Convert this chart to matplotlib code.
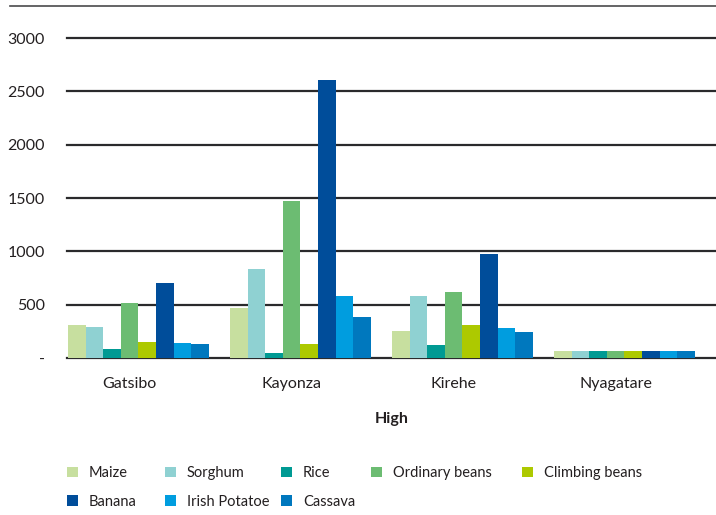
import numpy as np
import matplotlib
matplotlib.use("Agg")
import matplotlib.pyplot as plt
from matplotlib.lines import Line2D

plt.rcParams['font.family'] = ['Lato', 'DejaVu Sans']

districts = ["Gatsibo", "Kayonza", "Kirehe", "Nyagatare"]
crops = ["Maize", "Sorghum", "Rice", "Ordinary beans", "Climbing beans",
         "Banana", "Irish Potatoe", "Cassava"]
colors = ["#c7df9f", "#8fd1d2", "#009a93", "#6cbc72", "#adc900",
          "#004d9a", "#009ddf", "#0078be"]

# values per crop, one entry per district
maize = [309, 469, 253, 65]
sorghum = [290, 834, 581, 65]
rice = [84, 47, 122, 65]
ordinary_beans = [516, 1472, 619, 65]
climbing_beans = [150, 131, 309, 65]
banana = [703, 2606, 975, 65]
irish_potatoe = [140, 581, 281, 65]
cassava = [131, 384, 244, 65]
series = [maize, sorghum, rice, ordinary_beans, climbing_beans,
          banana, irish_potatoe, cassava]

yticks = [0, 500, 1000, 1500, 2000, 2500, 3000]
yticklabels = ["-", "500", "1000", "1500", "2000", "2500", "3000"]

W, H = 716, 515
fig = plt.figure(figsize=(W / 100, H / 100), dpi=100)
ax = fig.add_axes([67 / W, 1 - 358 / H, 1 - 67 / W, 320 / H])

x = np.arange(len(districts))
n = len(crops)
group = 0.87
w = group / n
shift = 0.055  # bar groups sit a little right of the category labels
handles = []
for i, (name, vals) in enumerate(zip(crops, series)):
    b = ax.bar(x + shift - group / 2 + w * (i + 0.5), vals, w,
               color=colors[i], label=name, zorder=3)
    handles.append(b)

ax.set_xlim(-0.386, 3.62)
ax.set_ylim(0, 3000)
ax.set_yticks(yticks)
ax.set_yticklabels(yticklabels, fontsize=11.5, color="#231f20")
ax.set_xticks(x)
ax.set_xticklabels(districts, fontsize=11.5, color="#231f20")
ax.tick_params(axis="y", length=0, pad=16)
ax.tick_params(axis="x", length=0, pad=14)
for s in ax.spines.values():
    s.set_visible(False)
for t in yticks:
    ax.axhline(t, color="#2a2a2c", lw=1.6, zorder=2, clip_on=False)

ax.set_xlabel("High", fontsize=11.5, fontweight="bold", color="#231f20",
              labelpad=15)

# thin rule along the top of the figure
fig.add_artist(Line2D([10 / W, 1.0], [1 - 6 / H, 1 - 6 / H],
                      color="#4a4a4c", lw=1.2))

# legend laid out as two rows; each column is its own legend
columns = [[0, 5], [1, 6], [2, 7], [3], [4]]
col_x = [67, 165, 281, 371, 522]
for idx, cx in zip(columns, col_x):
    leg = fig.legend([handles[k] for k in idx], [crops[k] for k in idx],
                     loc="upper left", bbox_to_anchor=(cx / W, 1 - 466 / H),
                     frameon=False, fontsize=10.5, handlelength=0.75,
                     handleheight=0.75, handletextpad=0.75, labelspacing=1.02,
                     borderpad=0, borderaxespad=0, labelcolor="#231f20")

fig.savefig("out.png", dpi=100)
